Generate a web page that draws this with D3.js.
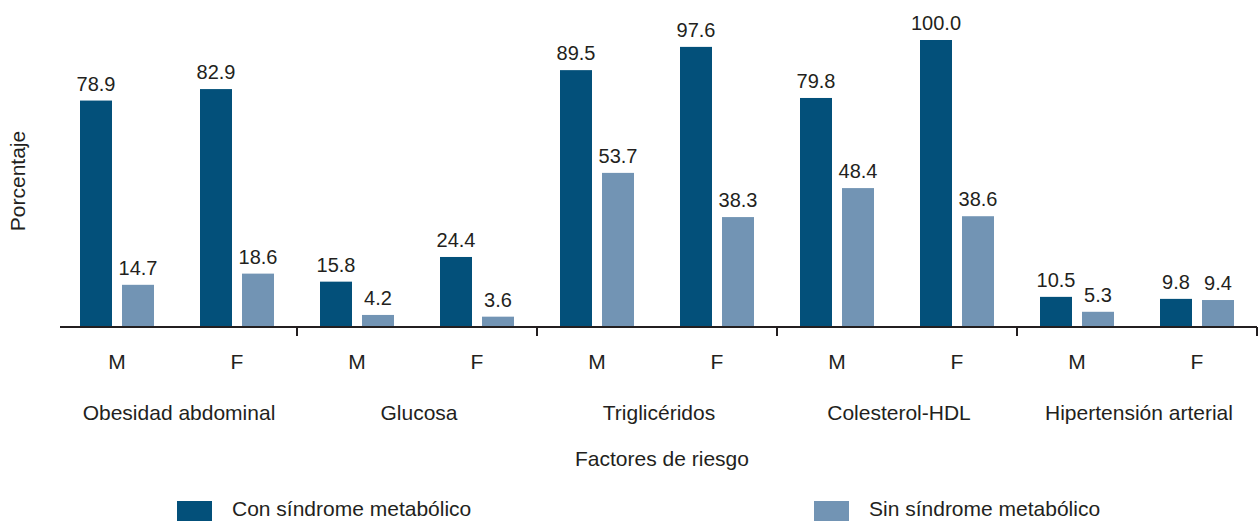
<!DOCTYPE html>
<html>
<head>
<meta charset="utf-8">
<script src="https://cdn.jsdelivr.net/npm/d3@7"></script>
<style>
  html, body { margin: 0; padding: 0; background: #fff; }
  svg { display: block; font-family: "Liberation Sans", Arial, Helvetica, sans-serif; }
</style>
</head>
<body>
<svg id="chart" width="1259" height="521"></svg>
<script>
// ---- data ----
const factors = ["Obesidad abdominal", "Glucosa", "Triglicéridos", "Colesterol-HDL", "Hipertensión arterial"];
const sexes = ["M", "F"];
const seriesNames = ["Con síndrome metabólico", "Sin síndrome metabólico"];
// values per factor, order: M, F
const conSindrome = [[78.9, 82.9], [15.8, 24.4], [89.5, 97.6], [79.8, 100.0], [10.5, 9.8]];
const sinSindrome = [[14.7, 18.6], [4.2, 3.6], [53.7, 38.3], [48.4, 38.6], [5.3, 9.4]];
const yTitle = "Porcentaje";
const xTitle = "Factores de riesgo";

// ---- layout ----
const colors = ["#03507a", "#7294b4"];
const textColor = "#231f20";
const svg = d3.select("#chart");

const x0 = d3.scaleBand().domain(factors).range([57, 1257]).padding(0);
const x1 = d3.scaleBand().domain(sexes).range([0, x0.bandwidth()]).padding(0);
const x2 = d3.scaleBand().domain(seriesNames).range([-37, 37]).paddingInner(10 / 42).paddingOuter(0);
const y = d3.scaleLinear().domain([0, 100]).range([327, 40]);

const rows = [];
factors.forEach((f, i) => {
  sexes.forEach((s, j) => {
    rows.push({ factor: f, sex: s, series: seriesNames[0], value: conSindrome[i][j], c: 0 });
    rows.push({ factor: f, sex: s, series: seriesNames[1], value: sinSindrome[i][j], c: 1 });
  });
});
const cx = d => x0(d.factor) + x1(d.sex) + x1.bandwidth() / 2;

// bars
svg.append("g").selectAll("rect").data(rows).join("rect")
  .attr("x", d => cx(d) + x2(d.series))
  .attr("width", x2.bandwidth())
  .attr("y", d => y(d.value))
  .attr("height", d => y(0) - y(d.value))
  .attr("fill", d => colors[d.c]);

// value labels
svg.append("g").selectAll("text").data(rows).join("text")
  .attr("x", d => cx(d) + x2(d.series) + x2.bandwidth() / 2)
  .attr("y", d => y(d.value) - 10)
  .attr("text-anchor", "middle")
  .attr("font-size", 20)
  .attr("fill", textColor)
  .text(d => d.value.toFixed(1));

// x axis line
svg.append("line")
  .attr("x1", 60).attr("x2", 1257)
  .attr("y1", y(0)).attr("y2", y(0))
  .attr("stroke", textColor).attr("stroke-width", 2);

// group dividers ticks
svg.append("g").selectAll("line").data(factors).join("line")
  .attr("x1", d => x0(d) + x0.bandwidth())
  .attr("x2", d => x0(d) + x0.bandwidth())
  .attr("y1", y(0)).attr("y2", y(0) + 9)
  .attr("stroke", textColor).attr("stroke-width", 2);

// sex labels
const sexRows = [];
factors.forEach(f => sexes.forEach(s => sexRows.push({ factor: f, sex: s })));
svg.append("g").selectAll("text").data(sexRows).join("text")
  .attr("x", d => cx(d))
  .attr("y", 369)
  .attr("text-anchor", "middle")
  .attr("font-size", 21)
  .attr("fill", textColor)
  .text(d => d.sex);

// factor labels
svg.append("g").selectAll("text").data(factors).join("text")
  .attr("x", d => x0(d) + x0.bandwidth() / 2 + 2)
  .attr("y", 420)
  .attr("text-anchor", "middle")
  .attr("font-size", 21)
  .attr("fill", textColor)
  .text(d => d);

// axis titles
svg.append("text")
  .attr("x", 662).attr("y", 466)
  .attr("text-anchor", "middle")
  .attr("font-size", 21)
  .attr("fill", textColor)
  .text(xTitle);

svg.append("text")
  .attr("transform", "translate(25,181) rotate(-90)")
  .attr("text-anchor", "middle")
  .attr("font-size", 21)
  .attr("fill", textColor)
  .text(yTitle);

// legend
const legendX = [177, 814];
const legend = svg.append("g").selectAll("g").data(seriesNames).join("g")
  .attr("transform", (d, i) => `translate(${legendX[i]},501)`);
legend.append("rect")
  .attr("width", 35).attr("height", 20)
  .attr("fill", (d, i) => colors[i]);
legend.append("text")
  .attr("x", 55).attr("y", 15)
  .attr("font-size", 21)
  .attr("fill", textColor)
  .text(d => d);
</script>
</body>
</html>
